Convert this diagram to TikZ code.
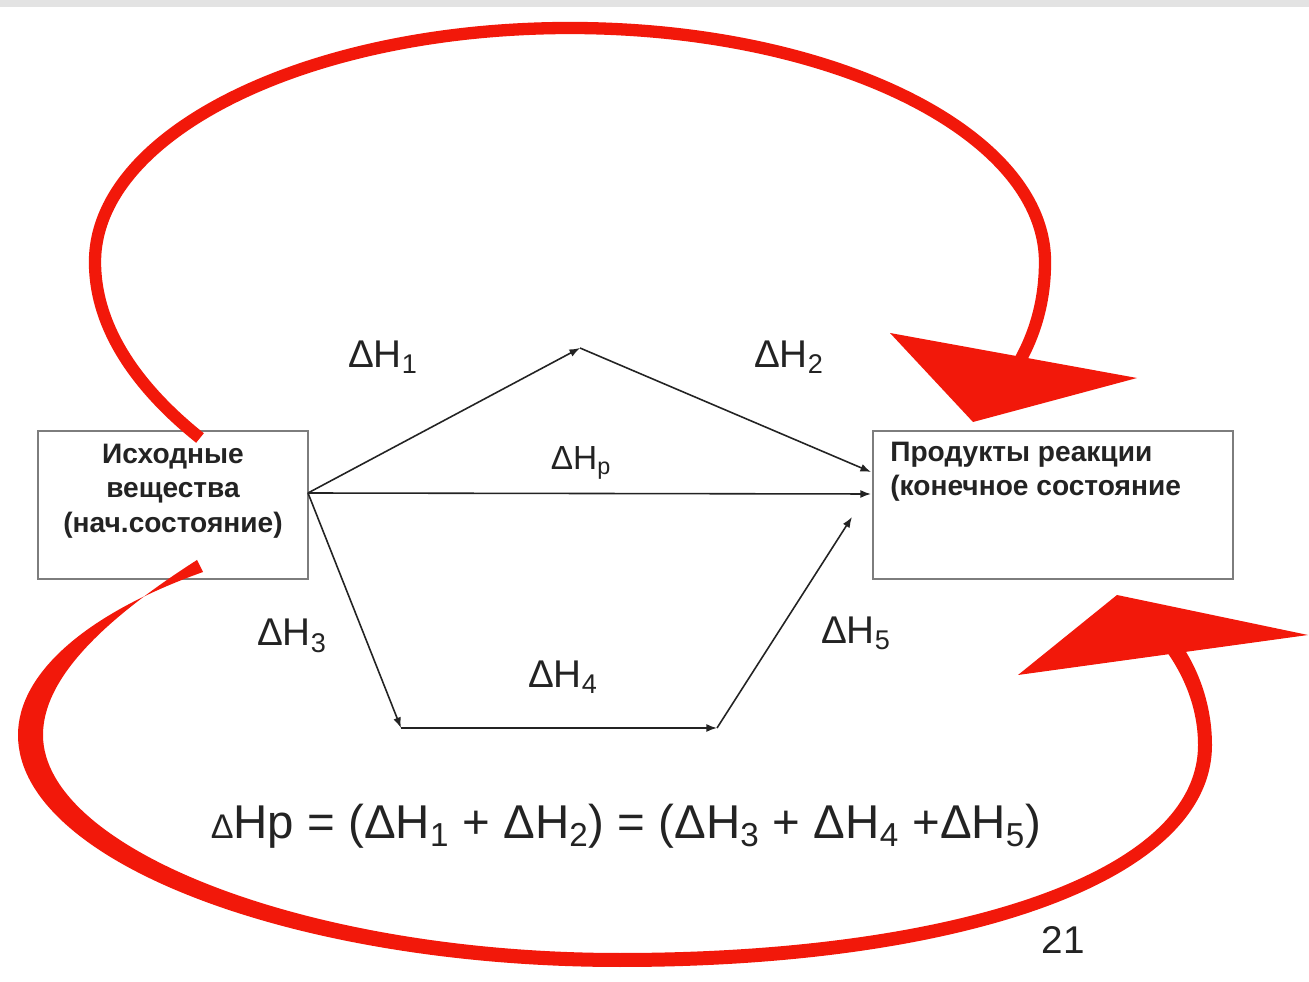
\documentclass[tikz,border=0pt]{standalone}
\usepackage{fontspec}
\setmainfont{Liberation Sans}
\usepackage{graphicx}
\usetikzlibrary{arrows.meta}
\definecolor{arrred}{RGB}{242,24,10}
\definecolor{boxgray}{RGB}{125,125,125}
\definecolor{ink}{RGB}{35,35,35}
\begin{document}
\begin{tikzpicture}[x=0.02cm,y=-0.02cm,
  box/.style={draw=boxgray,line width=1.2pt,minimum width=5.4cm,minimum height=2.96cm,inner sep=0pt},
  boxtext/.style={font=\bfseries\fontsize{16}{19.5}\selectfont,text=ink,inner sep=0pt},
  lbl/.style={font=\fontsize{22}{26}\selectfont,text=ink,inner sep=0pt},
  smalllbl/.style={font=\fontsize{19}{22}\selectfont,text=ink,inner sep=0pt},
  flow/.style={draw=ink,line width=0.9pt,-{Latex[length=6pt,width=4.5pt]}},
  redarc/.style={draw=arrred,line width=7pt},
  redfill/.style={fill=arrred}
]
\useasboundingbox (0,0) rectangle (1309,982);
\fill[white] (0,0) rectangle (1309,982);
\fill[gray!22] (0,0) rectangle (1309,7);

% boxes
\node[box] (L) at (173,505) {};
\node[box,minimum width=7.2cm] (R) at (1053,505) {};
\node[boxtext,align=center] (Ltext) at (173,491) {Исходные\\вещества\\(нач.состояние)};
\node[boxtext,align=left,anchor=north west] (Rtext) at (890,442) {Продукты реакции\\(конечное состояние};

% path points
\coordinate (s) at (308,493);
\coordinate (a) at (580,348);
\coordinate (e1) at (871,472);
\coordinate (e2) at (871,494);
\coordinate (b1) at (401,728);
\coordinate (b2) at (717,728);
\coordinate (e5) at (852,517);

\draw[flow] (s) -- (a);
\draw[flow] (a) -- (e1);
\draw[flow] (s) -- (e2);
\draw[flow] (s) -- (b1);
\draw[flow] (b1) -- (b2);
\draw[flow] (b2) -- (e5);

% labels
\node[lbl] (h1) at (383,357) {ΔH\textsubscript{1}};
\node[lbl] (h2) at (789,357) {ΔH\textsubscript{2}};
\node[smalllbl] (hp) at (581,463) {ΔH\textsubscript{p}};
\node[lbl] (h3) at (292,636) {ΔH\textsubscript{3}};
\node[lbl] (h4) at (563,677) {ΔH\textsubscript{4}};
\node[lbl] (h5) at (856,633) {ΔH\textsubscript{5}};

\node[font=\fontsize{27}{32}\selectfont,text=ink,inner sep=0pt] (eq) at (626,826)
  {\scalebox{0.72}{Δ}Hp = (ΔH\textsubscript{1} + ΔH\textsubscript{2}) = (ΔH\textsubscript{3} + ΔH\textsubscript{4} +ΔH\textsubscript{5})};
\node[font=\fontsize{22}{26}\selectfont,text=ink,inner sep=0pt] (pg) at (1063,940) {21};

% top red arrow (elliptic arc)
\coordinate (t0) at (200,438);
\coordinate (t1) at (95,262);
\coordinate (t2) at (570,28);
\coordinate (t3) at (1045,262);
\coordinate (t4) at (1008,380);
\draw[redarc] (t0) .. controls (140,390) and (95,330) .. (t1)
  .. controls (95,133) and (308,28) .. (t2)
  .. controls (832,28) and (1045,133) .. (t3)
  .. controls (1045,310) and (1030,348) .. (t4);
\coordinate (th1) at (890,333);
\coordinate (th2) at (1137,378);
\coordinate (th3) at (973,422);
\fill[redfill] (th1) -- (th2) -- (th3) -- cycle;

% bottom red arrow (tapered band)
\coordinate (u0) at (203,572);
\coordinate (u4) at (1175,636);
\fill[redfill] (u0) .. controls (85,614) and (18,674) .. (18,735)
  .. controls (18,862) and (295,967) .. (620,967)
  .. controls (955,967) and (1212,884) .. (1212,745)
  .. controls (1212,703) and (1197,664) .. (u4)
  -- (1161,644)
  .. controls (1183,672) and (1198,707) .. (1198,745)
  .. controls (1198,876) and (945,953) .. (620,953)
  .. controls (305,953) and (43,848) .. (43,735)
  .. controls (43,680) and (100,622) .. (197,560) -- cycle;
\coordinate (uh1) at (1117,595);
\coordinate (uh2) at (1308,635);
\coordinate (uh3) at (1018,675);
\fill[redfill] (uh1) -- (uh2) -- (uh3) -- cycle;
\end{tikzpicture}
\end{document}
